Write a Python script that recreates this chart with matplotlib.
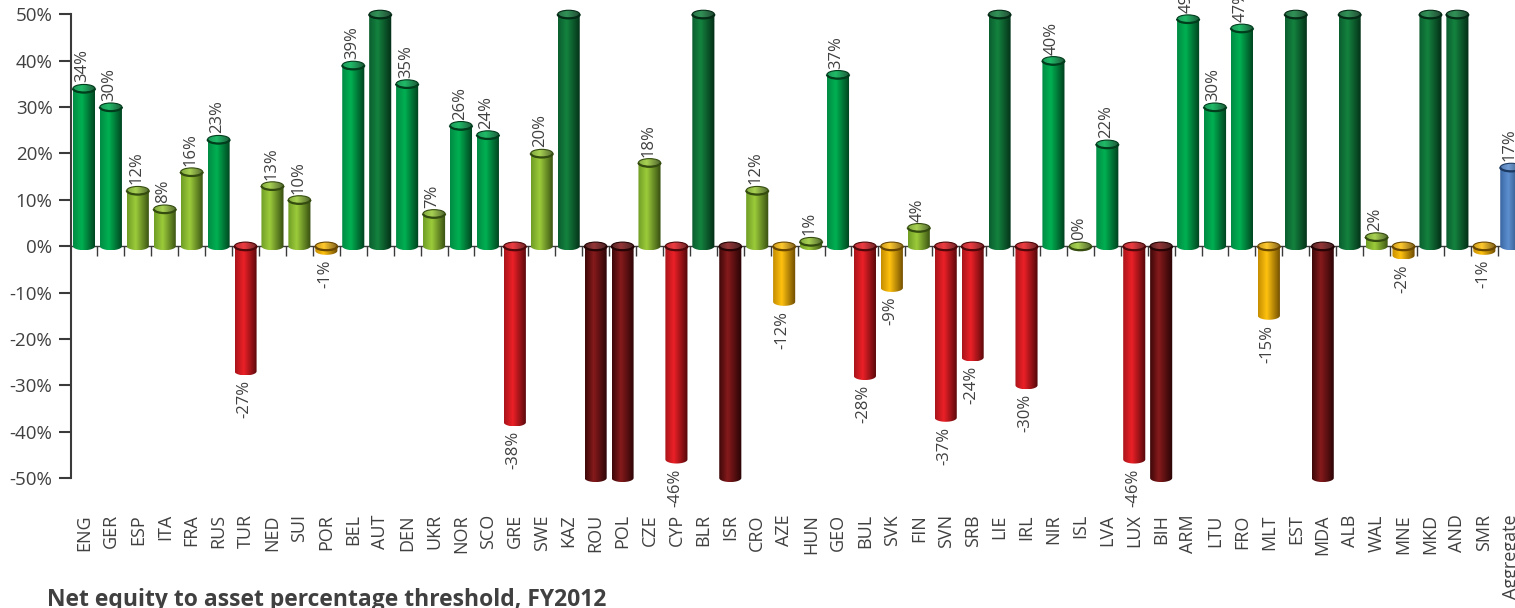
import numpy as np
import matplotlib
matplotlib.use('Agg')
import matplotlib.pyplot as plt
from matplotlib.colors import LinearSegmentedColormap, to_rgb
from matplotlib.path import Path
from matplotlib.patches import PathPatch, Ellipse, Arc
import matplotlib.transforms as mtransforms

categories = ['ENG', 'GER', 'ESP', 'ITA', 'FRA', 'RUS', 'TUR', 'NED', 'SUI', 'POR',
              'BEL', 'AUT', 'DEN', 'UKR', 'NOR', 'SCO', 'GRE', 'SWE', 'KAZ', 'ROU',
              'POL', 'CZE', 'CYP', 'BLR', 'ISR', 'CRO', 'AZE', 'HUN', 'GEO', 'BUL',
              'SVK', 'FIN', 'SVN', 'SRB', 'LIE', 'IRL', 'NIR', 'ISL', 'LVA', 'LUX',
              'BIH', 'ARM', 'LTU', 'FRO', 'MLT', 'EST', 'MDA', 'ALB', 'WAL', 'MNE',
              'MKD', 'AND', 'SMR', 'Aggregate']
values = [34, 30, 12, 8, 16, 23, -27, 13, 10, -1,
          39, 50, 35, 7, 26, 24, -38, 20, 50, -50,
          -50, 18, -46, 50, -50, 12, -12, 1, 37, -28,
          -9, 4, -37, -24, 50, -30, 40, 0, 22, -46,
          -50, 49, 30, 47, -15, 50, -50, 50, 2, -2,
          50, 50, -1, 17]
value_labels = ['34%', '30%', '12%', '8%', '16%', '23%', '-27%', '13%', '10%', '-1%',
                '39%', '', '35%', '7%', '26%', '24%', '-38%', '20%', '', '',
                '', '18%', '-46%', '', '', '12%', '-12%', '1%', '37%', '-28%',
                '-9%', '4%', '-37%', '-24%', '', '-30%', '40%', '0%', '22%', '-46%',
                '', '49%', '30%', '47%', '-15%', '', '', '', '2%', '-2%',
                '', '', '-1%', '17%']
color_classes = ['green', 'green', 'olive', 'olive', 'olive', 'green', 'red', 'olive', 'olive', 'yellow',
                 'green', 'darkgreen', 'green', 'olive', 'green', 'green', 'red', 'olive', 'darkgreen', 'darkred',
                 'darkred', 'olive', 'red', 'darkgreen', 'darkred', 'olive', 'yellow', 'olive', 'green', 'red',
                 'yellow', 'olive', 'red', 'red', 'darkgreen', 'red', 'green', 'olive', 'green', 'red',
                 'darkred', 'green', 'green', 'green', 'yellow', 'darkgreen', 'darkred', 'darkgreen', 'olive', 'yellow',
                 'darkgreen', 'darkgreen', 'yellow', 'blue']
y_ticks = [-50, -40, -30, -20, -10, 0, 10, 20, 30, 40, 50]
title = 'Net equity to asset percentage threshold, FY2012'

# (left, bright, right-dark)
PALETTE = {
    'darkgreen': ('#0b5d2f', '#14833f', '#032b15'),
    'green':     ('#008a44', '#00b152', '#003d1c'),
    'olive':     ('#6f9d25', '#9ccb3b', '#354c10'),
    'yellow':    ('#c48c00', '#ffc20f', '#6a4800'),
    'red':       ('#a8141a', '#ec2027', '#4f0709'),
    'darkred':   ('#3c0708', '#861a1c', '#260304'),
    'blue':      ('#3b67a3', '#5d8fcf', '#1c3961'),
}

TEXT = '#404040'
plt.rcParams['font.family'] = ['Open Sans', 'DejaVu Sans']

W, H = 1515, 608
fig = plt.figure(figsize=(W / 100, H / 100), dpi=100)
slot = 26.93
ax_left = 70.5 / W
ax_width = len(categories) * slot / W
ax_bottom = (H - 478) / H
ax_top = (H - 14.3) / H
ax = fig.add_axes([ax_left, ax_bottom, ax_width, ax_top - ax_bottom])


def mix(c1, c2, t):
    a, b = np.array(to_rgb(c1)), np.array(to_rgb(c2))
    return tuple(a * (1 - t) + b * t)


def make_cmap(cls, light=0.0):
    left, bright, dark = PALETTE[cls]
    stops = [(0.0, mix(left, 'white', light)),
             (0.38, mix(bright, 'white', light)),
             (0.72, mix(mix(bright, dark, 0.55), 'white', light)),
             (1.0, mix(dark, 'white', light))]
    return LinearSegmentedColormap.from_list(cls + str(light), stops)


grad = np.linspace(0, 1, 256).reshape(1, -1)
bw = 0.82
eh = 1.75  # ellipse height in data units


def clipped_gradient(cmap, extent, patch, z):
    im = ax.imshow(grad, cmap=cmap, extent=extent, aspect='auto',
                   interpolation='bilinear', zorder=z)
    im.set_clip_path(patch)
    im.set_clip_box(fig.bbox)
    return im


for i, (v, cls, lab) in enumerate(zip(values, color_classes, value_labels)):
    a = bw / 2
    b = eh / 2
    y_top = max(v, 0)
    y_bot = min(v, 0)
    # body with rounded bottom
    t = np.linspace(np.pi, 2 * np.pi, 40)
    verts = [(i - a, y_top)] + list(zip(i + a * np.cos(t), y_bot + b * np.sin(t))) + \
            [(i + a, y_top), (i - a, y_top)]
    codes = [Path.MOVETO] + [Path.LINETO] * (len(verts) - 2) + [Path.CLOSEPOLY]
    body = PathPatch(Path(verts, codes), transform=ax.transData)
    clipped_gradient(make_cmap(cls), [i - a, i + a, y_bot - b, y_top], body, 3)
    # top cap
    cap = Ellipse((i, y_top), bw, eh, transform=ax.transData)
    clipped_gradient(make_cmap(cls, 0.12), [i - a, i + a, y_top - b, y_top + b], cap, 4)
    dark = PALETTE[cls][2]
    rim = Ellipse((i, y_top), bw, eh, facecolor='none', edgecolor=dark,
                  linewidth=0.8, zorder=5, clip_on=False)
    ax.add_patch(rim)
    front = Arc((i, y_top), bw, eh, theta1=180, theta2=360, edgecolor=dark,
                linewidth=1.6, zorder=5, clip_on=False)
    ax.add_patch(front)
    # value label
    if lab:
        if v >= 0:
            ax.text(i - 0.05, v + 1.3, lab, rotation=90, ha='center', va='bottom',
                    fontsize=12, color=TEXT, zorder=6)
        else:
            ax.text(i - 0.05, v - 1.9, lab, rotation=90, ha='center', va='top',
                    fontsize=12, color=TEXT, zorder=6)

# category labels
trans = mtransforms.blended_transform_factory(ax.transData, ax.transAxes)
for i, c in enumerate(categories):
    ax.text(i, -0.078, c, transform=trans, rotation=90, ha='center', va='top',
            fontsize=13, color=TEXT)

ax.set_xlim(-0.5, len(categories) - 0.5)
ax.set_ylim(-50, 50)
ax.set_yticks(y_ticks)
ax.set_yticklabels([f'{t}%' for t in y_ticks], fontsize=13.5, color=TEXT)
ax.set_xticks(np.arange(0.5, len(categories) - 0.5, 1))
ax.set_xticklabels([])
ax.tick_params(axis='y', direction='out', length=9, width=1.5, color='#3a3a3a', pad=4)
ax.tick_params(axis='x', direction='out', length=7, width=1.0, color='#3a3a3a')
for s in ['top', 'right']:
    ax.spines[s].set_visible(False)
ax.spines['left'].set_color('#3a3a3a')
ax.spines['left'].set_linewidth(1.5)
ax.spines['bottom'].set_position(('data', 0))
ax.spines['bottom'].set_color('#3a3a3a')
ax.spines['bottom'].set_linewidth(1.0)
ax.spines['bottom'].set_zorder(2)
ax.patch.set_visible(False)

fig.text(47 / W, (H - 606) / H, title, fontsize=16.5, fontweight='bold',
         color=TEXT, ha='left', va='baseline')

fig.savefig('out.png', dpi=100)
